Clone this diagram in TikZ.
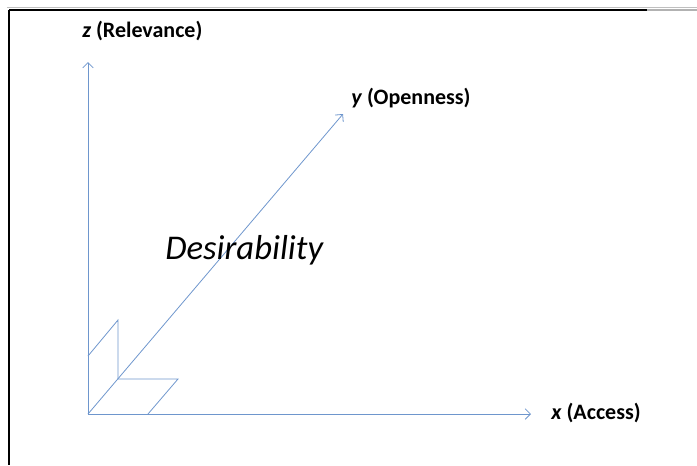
\documentclass[tikz,border=0pt]{standalone}
\usepackage{fontspec}
\setmainfont{Carlito}
\usepackage{xcolor}
\usepackage{tikz}
\usetikzlibrary{calc}
\usetikzlibrary{arrows.meta,positioning}
\definecolor{axisblue}{RGB}{110,150,205}
\tikzset{
	axis/.style={axisblue,line width=0.6pt,-{Straight Barb[length=4pt,width=8pt]}},
	guide/.style={axisblue,line width=0.6pt},
	axislabel/.style={anchor=west,inner sep=0pt,font=\fontsize{16.5}{19}\selectfont\bfseries}
}

\begin{document}
\begin{tikzpicture}[x=0.75pt,y=-0.75pt]
		\useasboundingbox (0,0) rectangle (697,465);
		% frame
		\draw[black!25,line width=0.8pt](7,7.5)--(697,7.5);
		\draw[black,line width=1.3pt](9,10)--(647,10);
		\draw[black!30,line width=1.3pt](647,10)--(697,10);
		\draw[black,line width=1.3pt](9,10)--(9,465);
		% axes
		\coordinate (O) at (88,414);
		\coordinate (x axis) at (531,414);
		\coordinate (z axis) at (88,62);
		\coordinate (y axis) at (343,114);
		\draw[axis](O)--(x axis);
		\draw[axis](O)--(z axis);
		\draw[axis](O)--(y axis);
		\node[axislabel] (xlab) at (551,413) {\textit{x} (Access)};
		\node[axislabel] (ylab) at (351,98) {\textit{y} (Openness)};
		\node[axislabel] (zlab) at (82,31) {\textit{z} (Relevance)};
		% small planes
		\coordinate (c) at (118,379);
		\coordinate (cz) at (118,320);
		\coordinate (oz) at (88,356);
		\coordinate (cx) at (178,379);
		\coordinate (ox) at (148,414);
		\draw[guide](c)--(cz)--(oz);
		\draw[guide](c)--(cx)--(ox);
		\node[anchor=west,inner sep=0pt,font=\fontsize{26}{31}\selectfont\itshape] (des) at (165,250) {Desirability};
	\end{tikzpicture}
\end{document}
